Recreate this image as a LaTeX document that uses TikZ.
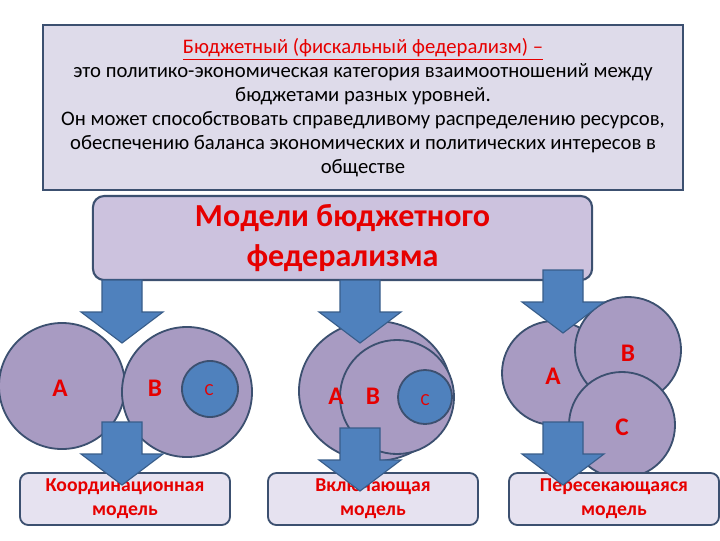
\documentclass[tikz,border=0pt]{standalone}
\usepackage{fontspec}
\setmainfont{Carlito}
\usetikzlibrary{positioning,shapes.geometric}
\definecolor{framegray}{RGB}{60,80,112}
\definecolor{infofill}{RGB}{222,219,234}
\definecolor{titlefill}{RGB}{204,194,222}
\definecolor{modelfill}{RGB}{230,226,240}
\definecolor{setfill}{RGB}{168,155,194}
\definecolor{arrowblue}{RGB}{79,129,189}
\definecolor{arrowedge}{RGB}{56,93,138}
\definecolor{textred}{RGB}{230,0,0}
\tikzset{
  fatarrow/.pic={\path[draw=arrowedge,fill=arrowblue,line width=0.8pt]
    (-20,0) -- (20,0) -- (20,32) -- (41,32) -- (0,63) -- (-41,32) -- (-20,32) -- cycle;}
}
\begin{document}
\begin{tikzpicture}[x=0.025cm,y=-0.025cm,
  infobox/.style={draw=framegray,line width=1.5pt,fill=infofill,inner sep=0pt,
    minimum width=16cm,minimum height=4.125cm,align=center,font=\fontsize{14.7}{17}\selectfont},
  titlebox/.style={draw=framegray,line width=1.5pt,fill=titlefill,rounded corners=8pt,
    minimum width=12.475cm,minimum height=2.1cm,align=center,text=textred,
    font=\fontsize{22.8}{29}\bfseries\selectfont},
  modelbox/.style={draw=framegray,line width=1.3pt,fill=modelfill,rounded corners=6pt,
    minimum width=5.25cm,minimum height=1.3cm,align=center,text=textred,
    font=\fontsize{14}{17}\bfseries\selectfont},
  setcircle/.style={draw=framegray,line width=1.3pt,fill=setfill,circle,inner sep=0pt},
  subcircle/.style={draw=framegray,line width=1.3pt,fill=arrowblue,circle,inner sep=0pt},
  setlabel/.style={text=textred,font=\fontsize{18}{20}\bfseries\selectfont},
  sublabel/.style={text=textred,font=\fontsize{12}{14}\selectfont}]
\useasboundingbox (0,0) rectangle (720,540);

\node[infobox] (def) at (363,107.5) {\textcolor{textred}{\underline{Бюджетный (фискальный федерализм) –}}\\
это политико-экономическая категория взаимоотношений между\\
бюджетами разных уровней.\\
Он может способствовать справедливому распределению ресурсов,\\
обеспечению баланса экономических и политических интересов в\\
обществе};

\node[titlebox] (models) at (342.5,238) {Модели бюджетного\\федерализма};

% coordination model
\node[setcircle,minimum size=3.15cm] (coA) at (62,386) {};
\node[setcircle,minimum size=3.25cm] (coB) at (187,392) {};
\node[subcircle,minimum size=1.4cm] (coC) at (210,389) {};
\node[setlabel] (coAl) at (60,388) {A};
\node[setlabel] (coBl) at (155,388) {B};
\node[sublabel] (coCl) at (209,390) {C};

% inclusive model
\node[setcircle,ellipse,minimum width=3.8cm,minimum height=3.5cm] (inA) at (375,391) {};
\node[setcircle,minimum size=2.85cm] (inB) at (397,397) {};
\node[subcircle,minimum size=1.35cm] (inC) at (425,397) {};
\node[setlabel] (inAl) at (336,396) {A};
\node[setlabel] (inBl) at (373,396) {B};
\node[sublabel] (inCl) at (425,400) {C};

% intersecting model
\node[setcircle,minimum size=2.6cm] (isA) at (554,373) {};
\node[setcircle,minimum size=2.65cm] (isB) at (628,350) {};
\node[setcircle,minimum size=2.65cm] (isC) at (622,425) {};
\node[setlabel] (isAl) at (553,376) {A};
\node[setlabel] (isBl) at (628,353) {B};
\node[setlabel] (isCl) at (622,427) {C};

\node[modelbox] (coord) at (125,499) {Координационная\\модель};
\node[modelbox] (incl) at (373,499) {Включающая\\модель};
\node[modelbox] (inter) at (614,499) {Пересекающаяся\\модель};

\pic (up1) at (122,280) {fatarrow};
\pic (up2) at (360,280) {fatarrow};
\pic (up3) at (563,270) {fatarrow};
\pic (dn1) at (122,422) {fatarrow};
\pic (dn2) at (360,428) {fatarrow};
\pic (dn3) at (563,422) {fatarrow};
\end{tikzpicture}
\end{document}
